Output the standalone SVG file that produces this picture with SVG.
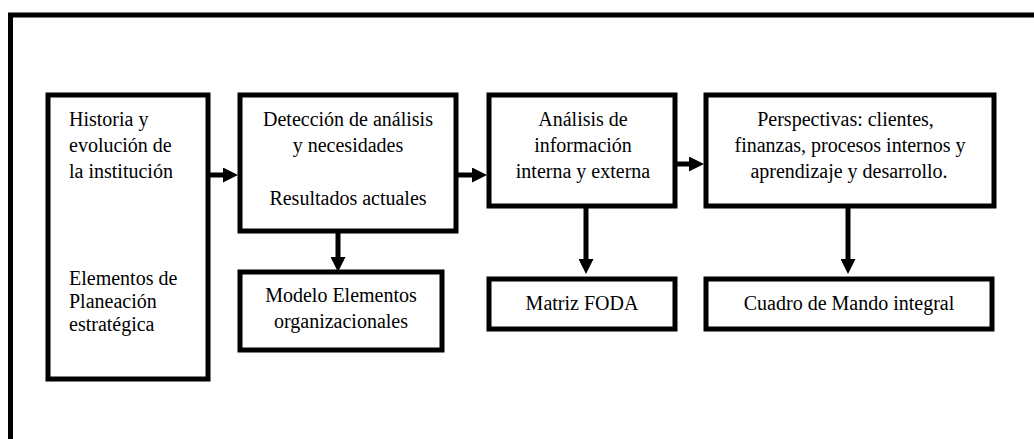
<svg xmlns="http://www.w3.org/2000/svg" width="1034" height="439" viewBox="0 0 1034 439">
<defs>
<style>
.box{fill:#fff;stroke:#000;stroke-width:5}
.frame{fill:none;stroke:#000;stroke-width:5}
.t{font-family:"Liberation Serif","Times New Roman",serif;font-size:20px;fill:#000}
.c{text-anchor:middle}
.line{stroke:#000;stroke-width:5;fill:none}
</style>
<marker id="ah" markerWidth="3" markerHeight="3" refX="0" refY="1.5" orient="auto" markerUnits="strokeWidth">
<path d="M0,0 L3,1.5 L0,3 Z" fill="#000"/>
</marker>
</defs>
<rect width="1034" height="439" fill="#fff"/>
<rect class="frame" x="10.5" y="15" width="1040" height="440"/>
<g id="connectors">
<line class="line" x1="210" y1="175" x2="223" y2="175" marker-end="url(#ah)"/>
<line class="line" x1="458" y1="175" x2="472" y2="175" marker-end="url(#ah)"/>
<line class="line" x1="677" y1="164" x2="689" y2="164" marker-end="url(#ah)"/>
<line class="line" x1="338" y1="233" x2="338" y2="257" marker-end="url(#ah)"/>
<line class="line" x1="586" y1="207" x2="586" y2="259" marker-end="url(#ah)"/>
<line class="line" x1="848" y1="207" x2="848" y2="259" marker-end="url(#ah)"/>
</g>
<g id="n1">
<rect class="box" x="48" y="95" width="160" height="284"/>
<text class="t" x="69" y="126">Historia y</text>
<text class="t" x="69" y="152">evolución de</text>
<text class="t" x="69" y="177.5">la institución</text>
<text class="t" x="69" y="285">Elementos de</text>
<text class="t" x="69" y="308">Planeación</text>
<text class="t" x="69" y="331">estratégica</text>
</g>
<g id="n2">
<rect class="box" x="240" y="95" width="216" height="136"/>
<text class="t c" x="348" y="126">Detección de análisis</text>
<text class="t c" x="348" y="152">y necesidades</text>
<text class="t c" x="348" y="204.5">Resultados actuales</text>
</g>
<g id="n3">
<rect class="box" x="489" y="95" width="186" height="111"/>
<text class="t c" x="583" y="126">Análisis de</text>
<text class="t c" x="583" y="152">información</text>
<text class="t c" x="583" y="177.5">interna y externa</text>
</g>
<g id="n4">
<rect class="box" x="706" y="95" width="288" height="111"/>
<text class="t c" x="845.5" y="126">Perspectivas: clientes,</text>
<text class="t c" x="850" y="152">finanzas, procesos internos y</text>
<text class="t c" x="849" y="177.5">aprendizaje y desarrollo.</text>
</g>
<g id="n5">
<rect class="box" x="240" y="272" width="202" height="78"/>
<text class="t c" x="341" y="302">Modelo Elementos</text>
<text class="t c" x="341" y="328">organizacionales</text>
</g>
<g id="n6">
<rect class="box" x="489" y="279" width="186" height="50"/>
<text class="t c" x="582" y="310">Matriz FODA</text>
</g>
<g id="n7">
<rect class="box" x="706" y="279" width="286" height="50"/>
<text class="t c" x="849" y="310">Cuadro de Mando integral</text>
</g>
</svg>
